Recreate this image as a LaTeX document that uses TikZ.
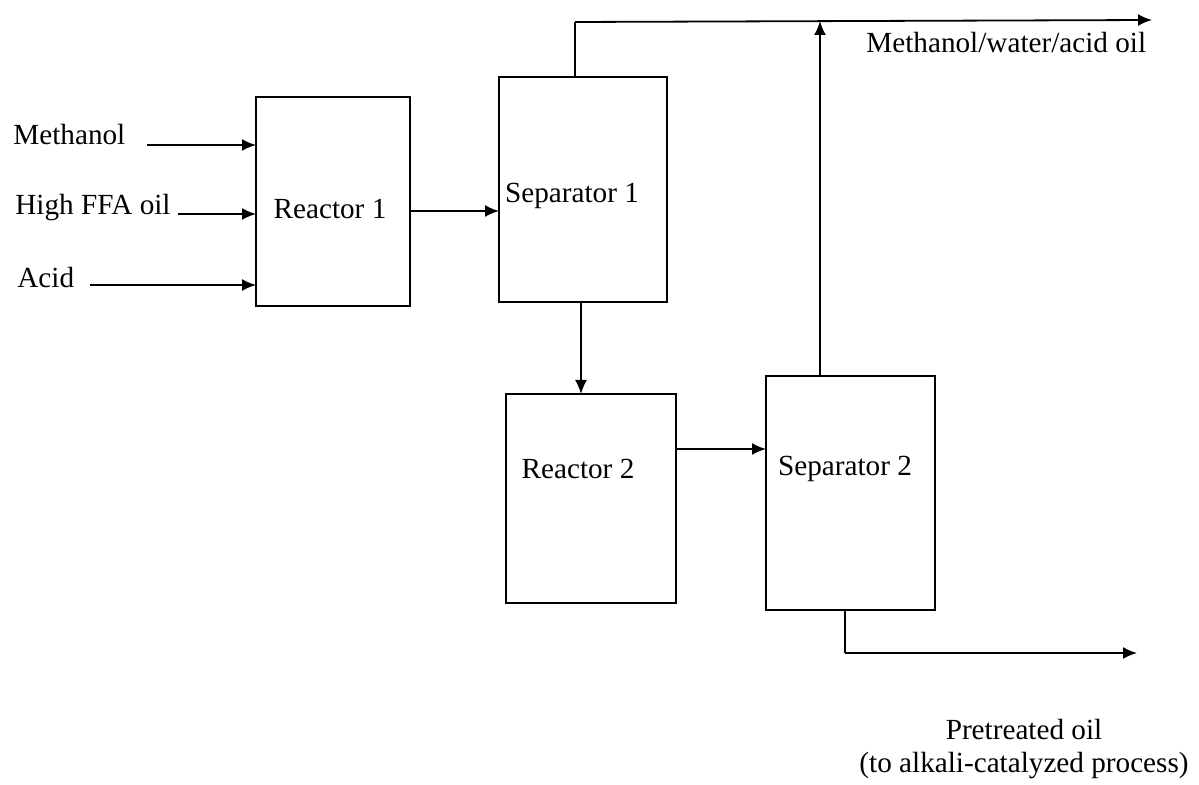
\documentclass[tikz,border=0pt]{standalone}
\usepackage{fontspec}
\setmainfont{Liberation Serif}
\usetikzlibrary{arrows.meta}
\begin{document}
\begin{tikzpicture}[x=0.5pt,y=-0.5pt,
  box/.style={draw, line width=0.9pt, inner sep=0pt, outer sep=0pt},
  lbl/.style={inner sep=0pt, font=\fontsize{14.6}{17.5}\selectfont},
  flow/.style={line width=0.9pt},
  arr/.style={line width=0.9pt, -{Latex[length=7pt,width=6pt]}}]
\useasboundingbox (0,0) rectangle (1199,785);
% boxes
\node[box, minimum width=77pt, minimum height=104.5pt] (r1) at (333,201.5) {};
\node[box, minimum width=84pt, minimum height=112.5pt] (s1) at (583,189.5) {};
\node[box, minimum width=85pt, minimum height=104.5pt] (r2) at (591,498.5) {};
\node[box, minimum width=84.5pt, minimum height=117pt] (s2) at (850.5,493) {};
% box texts
\node[lbl] (tr1) at (330,209) {Reactor 1};
\node[lbl] (ts1) at (572,196) {Separator 1};
\node[lbl] (tr2) at (578,469) {Reactor 2};
\node[lbl] (ts2) at (845,469) {Separator 2};
% inputs
\node[lbl, anchor=west] (tm) at (13,135) {Methanol};
\node[lbl, anchor=west] (tf) at (15,208) {High FFA oil};
\node[lbl, anchor=west] (ta) at (17,278) {Acid};
\coordinate (m0) at (147,145);
\coordinate (f0) at (178,214);
\coordinate (a0) at (90,285);
\draw[arr] (m0) -- (m0 -| r1.west);
\draw[arr] (f0) -- (f0 -| r1.west);
\draw[arr] (a0) -- (a0 -| r1.west);
% internal flows
\coordinate (h1) at (0,211);
\draw[arr] (h1 -| r1.east) -- (h1 -| s1.west);
\coordinate (v1) at (581,0);
\draw[arr] (v1 |- s1.south) -- (v1 |- r2.north);
\coordinate (h2) at (0,449);
\draw[arr] (h2 -| r2.east) -- (h2 -| s2.west);
% top outlet
\coordinate (tl) at (575,22);
\coordinate (tr) at (1152,20);
\coordinate (up) at (820,21);
\draw[flow] (tl |- s1.north) -- (tl);
\draw[arr] (tl) -- (tr);
\draw[arr] (up |- s2.north) -- (up);
\node[lbl, anchor=west] (tw) at (866,43) {Methanol/water/acid oil};
% bottom outlet
\coordinate (bl) at (845,653);
\coordinate (br) at (1137,653);
\draw[flow] (bl |- s2.south) -- (bl);
\draw[arr] (bl) -- (br);
\node[lbl, align=center] (tp) at (1024,749) {Pretreated oil\\[-1pt](to alkali-catalyzed process)};
\end{tikzpicture}
\end{document}
